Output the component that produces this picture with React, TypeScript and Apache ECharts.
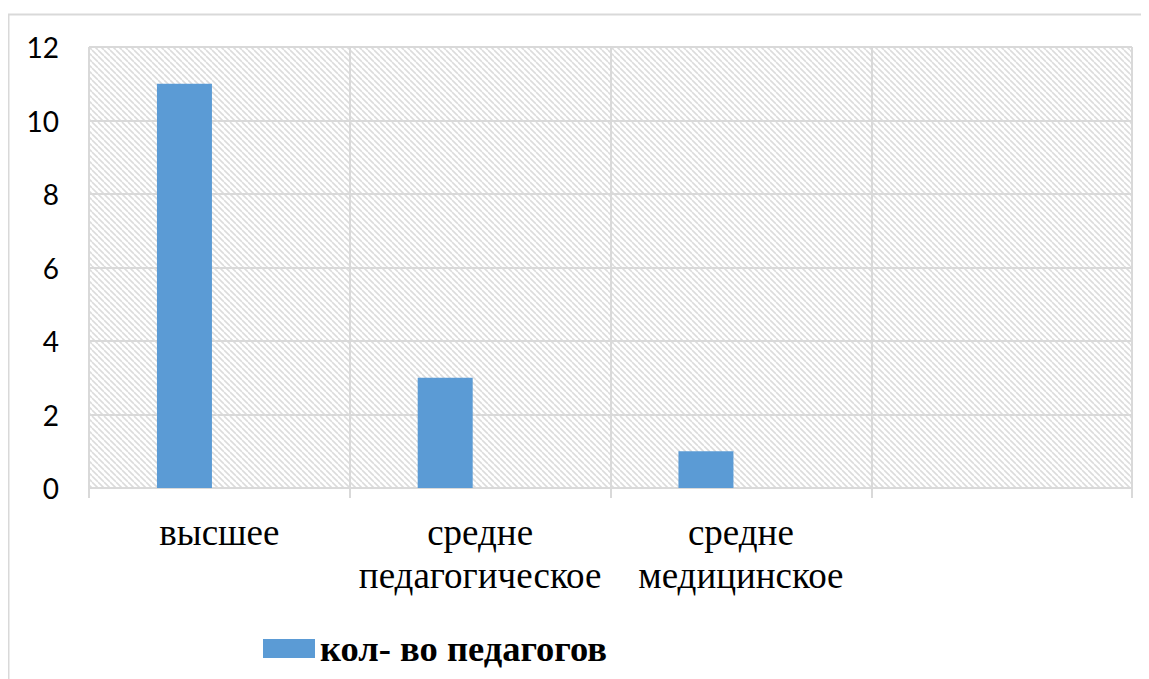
import React, { useEffect, useRef } from "react";
import * as echarts from "echarts";

const categories = ["высшее", "средне\nпедагогическое", "средне\nмедицинское", ""];
const seriesName = "кол- во педагогов";
const values = [11, 3, 1, null];
const emptyValues = [null, null, null, null];
const yMin = 0;
const yMax = 12;
const yStep = 2;

function makePattern(): HTMLCanvasElement {
  const c = document.createElement("canvas");
  const s = 6;
  c.width = s;
  c.height = s;
  const ctx = c.getContext("2d")!;
  ctx.fillStyle = "#ffffff";
  ctx.fillRect(0, 0, s, s);
  ctx.strokeStyle = "#dcdcdc";
  ctx.lineWidth = 1.6;
  for (let k = -1; k <= 1; k++) {
    ctx.beginPath();
    ctx.moveTo(k * s, 0);
    ctx.lineTo(k * s + s, s);
    ctx.stroke();
  }
  return c;
}

export default function App() {
  const ref = useRef<HTMLDivElement>(null);
  useEffect(() => {
    if (!ref.current) return;
    const chart = echarts.init(ref.current, undefined, { renderer: "svg" });
    const pat = makePattern();
    chart.setOption({
      animation: false,
      backgroundColor: "#ffffff",
      graphic: [
        {
          type: "rect",
          shape: { x: 0.5, y: 6.5, width: 1200, height: 800 },
          style: { fill: "none", stroke: "#d9d9d9", lineWidth: 2 },
          silent: true,
          z: -10,
        },
      ],
      grid: {
        left: 81,
        right: 17,
        top: 39,
        bottom: 191,
        show: true,
        borderWidth: 0,
        backgroundColor: { image: pat, repeat: "repeat", imageWidth: 6, imageHeight: 6 },
      },
      legend: {
        data: [seriesName],
        left: 250,
        top: 617,
        itemWidth: 52,
        itemHeight: 19,
        icon: "rect",
        textStyle: {
          fontFamily: "Liberation Serif",
          fontWeight: "bold",
          fontSize: 36.5,
          color: "#000",
        },
      },
      xAxis: {
        type: "category",
        data: categories,
        axisLine: { show: true, lineStyle: { color: "#d9d9d9", width: 2 } },
        axisTick: { show: true, length: 10, lineStyle: { color: "#d9d9d9", width: 2 } },
        splitLine: { show: true, lineStyle: { color: "#d9d9d9", width: 2 } },
        axisLabel: {
          interval: 0,
          margin: 23,
          fontFamily: "Liberation Serif",
          fontSize: 37,
          lineHeight: 43,
          color: "#000",
          verticalAlign: "top",
        },
      },
      yAxis: {
        type: "value",
        min: yMin,
        max: yMax,
        interval: yStep,
        axisLine: { show: false },
        axisTick: { show: false },
        splitLine: { show: true, lineStyle: { color: "#d9d9d9", width: 2 } },
        axisLabel: {
          margin: 30,
          fontFamily: "Lato",
          fontSize: 28,
          color: "#000",
        },
      },
      series: [
        {
          name: seriesName,
          type: "bar",
          data: values,
          barWidth: 55,
          barGap: "27%",
          itemStyle: { color: "#5b9bd5" },
        },
        {
          name: "ряд2",
          type: "bar",
          data: emptyValues,
          barWidth: 55,
          itemStyle: { color: "#ed7d31" },
        },
      ],
    });
    return () => chart.dispose();
  }, []);
  return <div ref={ref} style={{ width: 1141, height: 671 }} />;
}
